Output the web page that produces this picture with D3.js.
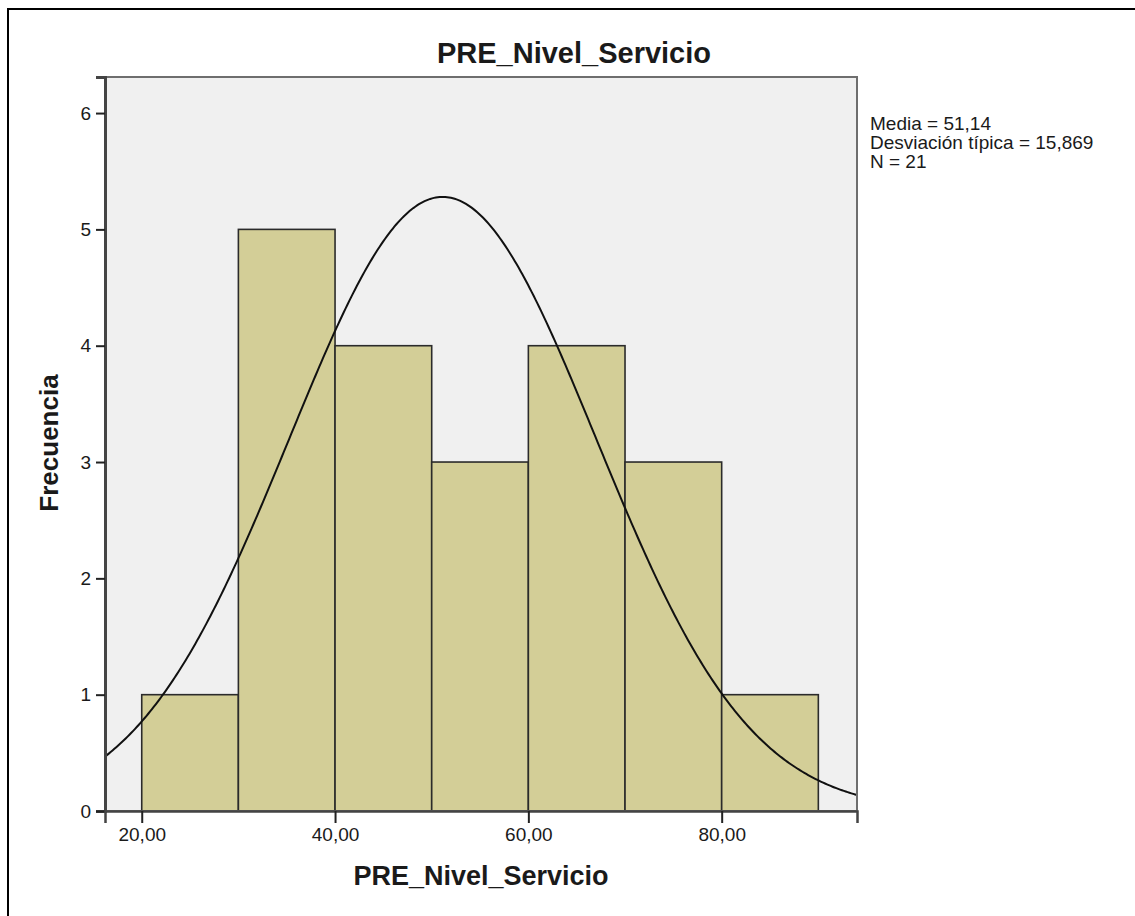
<!DOCTYPE html>
<html>
<head>
<meta charset="utf-8">
<script src="https://cdn.jsdelivr.net/npm/d3@7"></script>
<style>
  html, body { margin: 0; padding: 0; background: #ffffff; }
  svg { display: block; }
  text { font-family: "Liberation Sans", Arial, sans-serif; fill: #1a1a1a; }
</style>
</head>
<body>
<svg id="chart" width="1135" height="916"></svg>
<script>
// ---- data ----
const binStarts = [20, 30, 40, 50, 60, 70, 80];
const binWidth = 10;
const frequencies = [1, 5, 4, 3, 4, 3, 1];
const xTicks = [20, 40, 60, 80];
const yTicks = [0, 1, 2, 3, 4, 5, 6];
const statMean = 51.14;
const statSd = 15.869;
const statN = 21;
const legendLines = ["Media = 51,14", "Desviación típica = 15,869", "N = 21"];
const chartTitle = "PRE_Nivel_Servicio";
const xTitle = "PRE_Nivel_Servicio";
const yTitle = "Frecuencia";

(function () {
// ---- layout ----
const svg = d3.select("#chart");
const pLeft = 105, pRight = 857, pTop = 77, pBottom = 811;

const x = d3.scaleLinear().domain([16.2, 94.0]).range([pLeft, pRight]);
const y = d3.scaleLinear().domain([0, 6.31]).range([pBottom, pTop]);

// outer border (left & top visible)
svg.append("line").attr("x1", 8).attr("x2", 8).attr("y1", 8).attr("y2", 916)
  .attr("stroke", "#000").attr("stroke-width", 2);
svg.append("line").attr("x1", 7).attr("x2", 1135).attr("y1", 9).attr("y2", 9)
  .attr("stroke", "#000").attr("stroke-width", 2);

// plot background
svg.append("rect").attr("x", pLeft).attr("y", pTop)
  .attr("width", pRight - pLeft).attr("height", pBottom - pTop)
  .attr("fill", "#f0f0f0");

// bars
const data = binStarts.map((s, i) => ({ x0: s, x1: s + binWidth, f: frequencies[i] }));
svg.append("g").selectAll("rect").data(data).join("rect")
  .attr("x", d => x(d.x0))
  .attr("y", d => y(d.f))
  .attr("width", d => x(d.x1) - x(d.x0))
  .attr("height", d => y(0) - y(d.f))
  .attr("fill", "#d3ce97")
  .attr("stroke", "#2b2b2b")
  .attr("stroke-width", 1.6);

// normal curve from the reported mean / sd / N
const xs = d3.range(0, 401).map(i => 16.2 + (94.0 - 16.2) * i / 400);
const curve = xs.map(v => [v, statN * binWidth / (statSd * Math.sqrt(2 * Math.PI)) *
  Math.exp(-0.5 * Math.pow((v - statMean) / statSd, 2))]);
svg.append("clipPath").attr("id", "clip").append("rect")
  .attr("x", pLeft).attr("y", pTop).attr("width", pRight - pLeft).attr("height", pBottom - pTop);
svg.append("path").datum(curve)
  .attr("clip-path", "url(#clip)")
  .attr("fill", "none").attr("stroke", "#111").attr("stroke-width", 2)
  .attr("d", d3.line().x(d => x(d[0])).y(d => y(d[1])));

// frame
svg.append("rect").attr("x", pLeft).attr("y", pTop)
  .attr("width", pRight - pLeft).attr("height", pBottom - pTop)
  .attr("fill", "none").attr("stroke", "#6e6e6e").attr("stroke-width", 2);

// y axis
const yAxis = d3.axisLeft(y).tickValues(yTicks).tickSize(9).tickPadding(5)
  .tickFormat(d3.format("d"));
const gy = svg.append("g").attr("transform", `translate(${pLeft},0)`).call(yAxis);
gy.select(".domain").attr("stroke", "#444").attr("stroke-width", 3);
gy.selectAll(".tick line").attr("stroke", "#222").attr("stroke-width", 2);
gy.selectAll(".tick text").attr("font-size", 19).attr("fill", "#222")
  .attr("font-family", "Liberation Sans, Arial, sans-serif");

// x axis
const xAxis = d3.axisBottom(x).tickValues(xTicks).tickSize(12).tickPadding(5)
  .tickFormat(d => d3.format(".2f")(d).replace(".", ","));
const gx = svg.append("g").attr("transform", `translate(0,${pBottom})`).call(xAxis);
gx.select(".domain").attr("stroke", "#444").attr("stroke-width", 2.5);
gx.selectAll(".tick line").attr("stroke", "#222").attr("stroke-width", 2);
gx.selectAll(".tick text").attr("font-size", 19).attr("fill", "#222")
  .attr("font-family", "Liberation Sans, Arial, sans-serif");

// titles
svg.append("text").attr("x", 574).attr("y", 63).attr("text-anchor", "middle")
  .attr("font-size", 29).attr("font-weight", "bold").text(chartTitle);
svg.append("text").attr("x", 481).attr("y", 885).attr("text-anchor", "middle")
  .attr("font-size", 27).attr("font-weight", "bold").text(xTitle);
svg.append("text").attr("transform", "translate(58,443) rotate(-90)")
  .attr("text-anchor", "middle")
  .attr("font-size", 26).attr("font-weight", "bold").text(yTitle);

// stats legend
svg.append("g").selectAll("text").data(legendLines).join("text")
  .attr("x", 870).attr("y", (d, i) => 130 + i * 19)
  .attr("font-size", 19).text(d => d);
})();
</script>
</body>
</html>
